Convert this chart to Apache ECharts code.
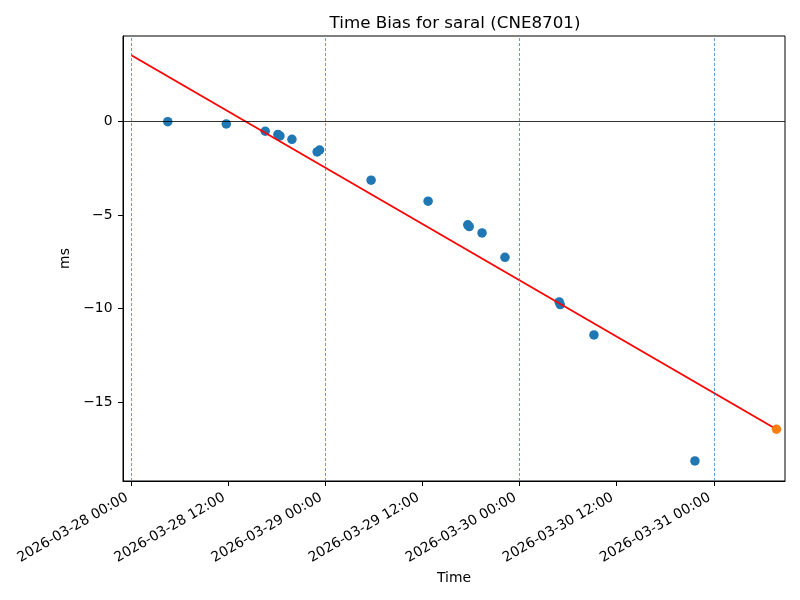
<!DOCTYPE html>
<html>
<head>
<meta charset="utf-8">
<script src="https://cdn.jsdelivr.net/npm/echarts@6/dist/echarts.min.js"></script>
<style>html,body{margin:0;padding:0;background:#fff}#c{width:800px;height:600px}</style>
</head>
<body>
<div id="c"></div>
<script>
const titleText = "Time Bias for saral (CNE8701)";
const obsTimes = ["2026-03-28 04:30","2026-03-28 11:44","2026-03-28 16:33","2026-03-28 18:07","2026-03-28 18:22","2026-03-28 19:51","2026-03-28 22:58","2026-03-28 23:16","2026-03-29 05:38","2026-03-29 12:41","2026-03-29 17:35","2026-03-29 17:46","2026-03-29 19:21","2026-03-29 22:11","2026-03-30 04:53","2026-03-30 05:01","2026-03-30 09:11","2026-03-30 21:40"];
const obsBias = [-0.03,-0.15,-0.54,-0.71,-0.79,-0.97,-1.64,-1.54,-3.15,-4.27,-5.53,-5.62,-5.96,-7.26,-9.64,-9.78,-11.40,-18.12];
const fitTimes = ["2026-03-28 00:00","2026-03-31 07:45"];
const fitBias = [3.51,-16.43];
const predTimes = ["2026-03-31 07:45"];
const predBias = [-16.43];
const xTickLabels = ["2026-03-28 00:00","2026-03-28 12:00","2026-03-29 00:00","2026-03-29 12:00","2026-03-30 00:00","2026-03-30 12:00","2026-03-31 00:00"];
const dayLines = ["2026-03-28 00:00","2026-03-29 00:00","2026-03-30 00:00","2026-03-31 00:00"];
const yTicks = [-15,-10,-5,0];
const xRange = ["2026-03-27 22:58","2026-03-31 08:48"];
const yRange = [-19.19, 4.54];

function ts(s){const [d,t]=s.split(' ');const [Y,M,D]=d.split('-').map(Number);const [h,m]=t.split(':').map(Number);return Date.UTC(Y,M-1,D,h,m);}
function pad(n){return String(n).padStart(2,'0');}
function fmt(v){const d=new Date(v);return d.getUTCFullYear()+'-'+pad(d.getUTCMonth()+1)+'-'+pad(d.getUTCDate())+' '+pad(d.getUTCHours())+':'+pad(d.getUTCMinutes());}
const FONT = 'DejaVu Sans';
const chart = echarts.init(document.getElementById('c'), null, {renderer:'canvas'});
chart.setOption({
  animation:false,
  backgroundColor:'#fff',
  title:{text:titleText,left:450,top:10,textAlign:'center',textStyle:{fontFamily:FONT,fontSize:16.7,fontWeight:'normal',color:'#000'}},
  grid:{left:123,right:15,top:36,bottom:119,show:true,borderColor:'#000',borderWidth:1,backgroundColor:'transparent'},
  xAxis:{type:'value',min:ts(xRange[0]),max:ts(xRange[1]),name:'Time',nameLocation:'middle',nameGap:89,
    nameTextStyle:{fontFamily:FONT,fontSize:13.9,color:'#000'},
    axisLine:{show:true,onZero:false,lineStyle:{color:'#000',width:1}},
    axisTick:{show:true,length:5,customValues:xTickLabels.map(ts),lineStyle:{color:'#000',width:1}},
    axisLabel:{customValues:xTickLabels.map(ts),rotate:30,margin:13,padding:[0,5,0,0],fontFamily:FONT,fontSize:13.9,color:'#000',formatter:v=>fmt(v)},
    splitLine:{show:false}},
  yAxis:{type:'value',min:yRange[0],max:yRange[1],name:'ms',nameLocation:'middle',nameGap:42,
    nameTextStyle:{fontFamily:FONT,fontSize:13.9,color:'#000'},
    axisLine:{show:true,onZero:false,lineStyle:{color:'#000',width:1}},
    axisTick:{show:true,length:5,customValues:yTicks,lineStyle:{color:'#000',width:1}},
    axisLabel:{customValues:yTicks,margin:10.5,fontFamily:FONT,fontSize:13.9,color:'#000',formatter:v=>String(v).replace('-','\u2212')},
    splitLine:{show:false}},
  series:[
    {type:'scatter',z:2,symbolSize:9.5,itemStyle:{color:'#1f77b4',opacity:1},
     data:obsTimes.map((t,i)=>[ts(t),obsBias[i]]),
     markLine:{silent:true,symbol:'none',label:{show:false},animation:false,
       data:[
         ...dayLines.map(d=>({xAxis:ts(d),lineStyle:{color:'#1f77b4',width:0.7,type:[3,2]}})),
         {yAxis:0,lineStyle:{color:'#000',width:0.8,type:'solid'}}
       ]}},
    {type:'line',z:3,symbol:'none',lineStyle:{color:'#ff0000',width:1.8},data:fitTimes.map((t,i)=>[ts(t),fitBias[i]])},
    {type:'scatter',z:4,symbolSize:9.5,itemStyle:{color:'#ff7f0e',opacity:1},data:predTimes.map((t,i)=>[ts(t),predBias[i]])}
  ]
});
</script>
</body>
</html>
